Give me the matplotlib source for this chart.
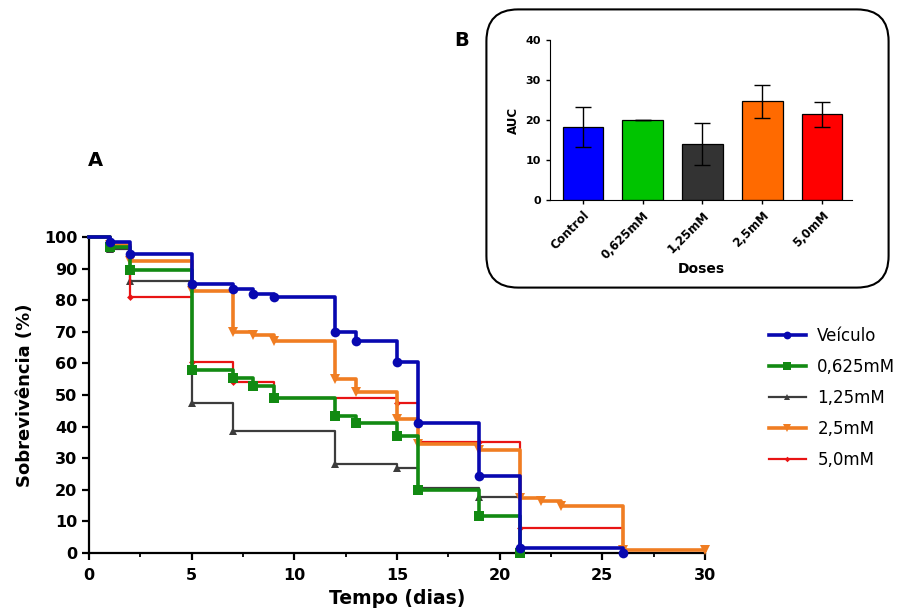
import matplotlib
matplotlib.use("Agg")
import matplotlib.pyplot as plt
from matplotlib.lines import Line2D
from matplotlib.patches import FancyBboxPatch

plt.rcParams['font.family'] = ['DejaVu Sans']

# ---- Survival data (Kaplan-Meier steps) ----
series_names = ["Veículo", "0,625mM", "1,25mM", "2,5mM", "5,0mM"]

t_veic = [0, 1, 2, 5, 7, 8, 9, 12, 13, 15, 16, 19, 21, 26]
s_veic = [100, 98.5, 94.5, 85, 83.5, 82, 81, 70, 67, 60.5, 41, 24.5, 1.5, 0]

t_g625 = [0, 1, 2, 5, 7, 8, 9, 12, 13, 15, 16, 19, 21]
s_g625 = [100, 96.8, 89.5, 58, 55.5, 53, 49, 43.5, 41, 37, 19.8, 11.8, 0]

t_g125 = [0, 1, 2, 5, 7, 12, 15, 16, 19, 21]
s_g125 = [100, 96.2, 86, 47.5, 38.5, 28.2, 27, 20.5, 17.8, 0]

t_g25 = [0, 1, 2, 5, 7, 8, 9, 12, 13, 15, 16, 19, 21, 22, 23, 26, 30]
s_g25 = [100, 97.5, 92.5, 83, 70, 69, 67, 55.2, 50.8, 42.4, 34.6, 32.5, 17.4, 16.4, 15, 1, 0.8]

t_g50 = [0, 1, 2, 5, 7, 9, 15, 16, 19, 21, 26]
s_g50 = [100, 97.2, 81, 60.5, 54.2, 49, 47.5, 35, 35, 8, 0]

# ---- AUC bar data ----
doses = ["Control", "0,625mM", "1,25mM", "2,5mM", "5,0mM"]
auc_mean = [18.3, 20.1, 14.0, 24.7, 21.4]
auc_err = [5.0, 0.0, 5.2, 4.1, 3.1]

line_colors = ["#0808b0", "#128a12", "#3c3c3c", "#f07d22", "#e81414"]
bar_colors = ["#0000ff", "#00c400", "#333333", "#ff6a00", "#ff0000"]
markers = ["o", "s", "^", "v", "D"]
msizes = [7, 7, 6, 7, 3.5]
lwidths = [2.6, 2.6, 1.6, 2.6, 1.6]

fig = plt.figure(figsize=(9.06, 6.11), dpi=100)
W, H = 906, 611

def fx(px):
    return px / W

def fy(py):
    return 1 - py / H

ax = fig.add_axes([fx(89), fy(553), fx(705) - fx(89), fy(237) - fy(553)])
all_t = [t_veic, t_g625, t_g125, t_g25, t_g50]
all_s = [s_veic, s_g625, s_g125, s_g25, s_g50]
order = [2, 4, 3, 1, 0]
zords = {0: 6, 1: 5, 2: 3, 3: 4, 4: 3.5}
for i in order:
    ax.plot(all_t[i], all_s[i], drawstyle='steps-post', color=line_colors[i],
            lw=lwidths[i], marker=markers[i], ms=msizes[i], markevery=slice(1, None),
            markeredgewidth=0, zorder=zords[i], clip_on=False)

ax.set_xlim(0, 30)
ax.set_ylim(0, 100)
ax.set_xticks(range(0, 31, 5))
ax.set_xticks([2.5, 7.5, 12.5, 17.5, 22.5, 27.5], minor=True)
ax.set_yticks(range(0, 101, 10))
for sp in ['top', 'right']:
    ax.spines[sp].set_visible(False)
for sp in ['left', 'bottom']:
    ax.spines[sp].set_linewidth(1.6)
ax.tick_params(axis='both', which='major', width=1.6, length=5, labelsize=11.5)
ax.tick_params(axis='x', which='major', pad=6)
ax.tick_params(axis='x', which='minor', width=1.3, length=3)
for lab in ax.get_xticklabels() + ax.get_yticklabels():
    lab.set_fontweight('bold')
ax.set_xlabel("Tempo (dias)", fontsize=13.5, fontweight='bold', labelpad=4)
ax.set_ylabel("Sobrevivência (%)", fontsize=13, fontweight='bold', labelpad=7)

handles = [Line2D([0], [0], color=line_colors[i], lw=lwidths[i], marker=markers[i],
                  ms=msizes[i] * 0.8, markeredgewidth=0) for i in range(5)]
fig.legend(handles, series_names, loc='upper left', bbox_to_anchor=(fx(754), fy(312)),
           frameon=False, fontsize=12, handlelength=2.2, labelspacing=0.78,
           handletextpad=0.7)

fig.text(fx(95), fy(160), "A", fontsize=14, fontweight='bold', va='center', ha='center')
fig.text(fx(462), fy(40), "B", fontsize=14, fontweight='bold', va='center', ha='center')

# rounded frame for inset
box = FancyBboxPatch((fx(500), fy(274)), fx(875) - fx(500), fy(23) - fy(274),
                     boxstyle="round,pad=0.015,rounding_size=0.035",
                     transform=fig.transFigure, fill=False, lw=1.5, ec='black',
                     mutation_aspect=W / H)
fig.patches.append(box)

ax2 = fig.add_axes([fx(550), fy(200), fx(852) - fx(550), fy(40) - fy(200)])
xpos = list(range(len(doses)))
ax2.bar(xpos, auc_mean, width=0.68, color=bar_colors, edgecolor='black', lw=0.9, zorder=2)
ax2.errorbar(xpos, auc_mean, yerr=auc_err, fmt='none', ecolor='black', elinewidth=1.0,
             capsize=6, capthick=1.0, zorder=3)
ax2.set_xlim(-0.55, 4.5)
ax2.set_ylim(0, 40)
ax2.set_yticks([0, 10, 20, 30, 40])
ax2.set_xticks(xpos)
ax2.set_xticklabels(doses, rotation=45, ha='right', rotation_mode='anchor')
for sp in ['top', 'right']:
    ax2.spines[sp].set_visible(False)
ax2.tick_params(axis='both', labelsize=8, width=1, length=3)
ax2.tick_params(axis='x', labelsize=8.5)
for lab in ax2.get_xticklabels() + ax2.get_yticklabels():
    lab.set_fontweight('bold')
ax2.set_ylabel("AUC", fontsize=8.5, fontweight='bold', labelpad=4)
ax2.set_xlabel("Doses", fontsize=10, fontweight='bold', labelpad=0)

fig.savefig("out.png", dpi=100)
